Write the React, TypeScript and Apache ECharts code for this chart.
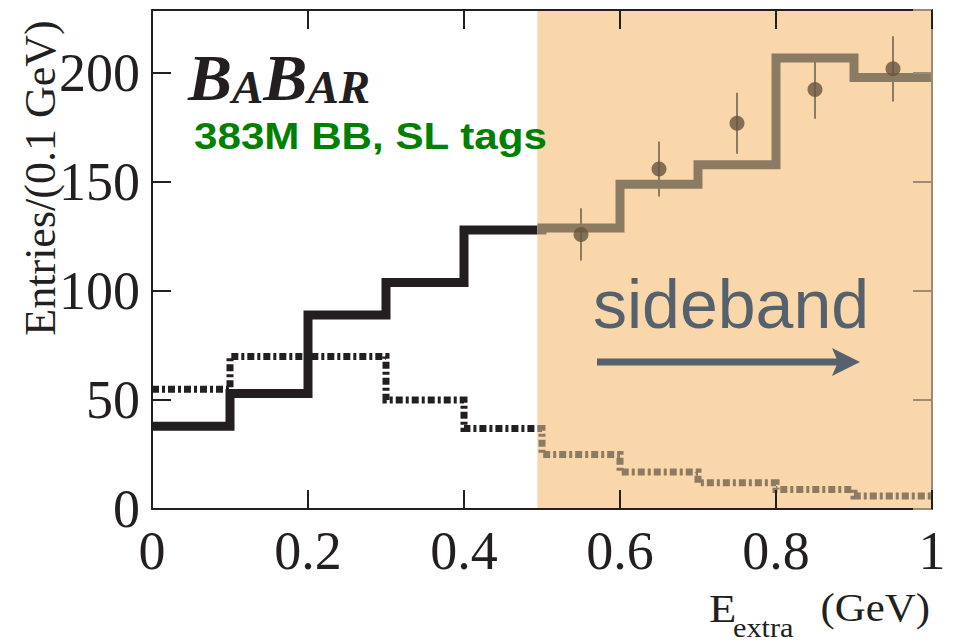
import React, { useEffect, useRef } from "react";
import * as echarts from "echarts";

// Histogram binning (GeV)
const binEdges = [0, 0.1, 0.2, 0.3, 0.4, 0.5, 0.6, 0.7, 0.8, 0.9];
const binWidth = 0.1;

// Solid histogram (entries per bin)
const solidCounts = [38, 53, 89, 104, 128, 129, 149, 158, 207, 198];
// Dash-dotted histogram (entries per bin)
const dashedCounts = [55, 70, 70, 50, 37, 25, 17, 12, 9, 6];

// Data points in the sideband with their errors
const pointX = [0.55, 0.65, 0.75, 0.85, 0.95];
const pointY = [126, 156, 177, 192.5, 202];
const pointErr = [12, 12.6, 14, 13.4, 15];

// Shaded sideband region
const sidebandFrom = 0.494;
const sidebandTo = 1.0;

// Axis ranges
const xMin = 0;
const xMax = 1;
const xStep = 0.2;
const yMin = 0;
const yMax = 229;
const yStep = 50;

const INK = "#231F20";
const BAND = "#F9D7AB";
const BROWN = "#8C7B63";
const FRAME_BROWN = "#9C8B77";
const DOT = "#66553E";
const SLATE = "#56616E";
const SERIF = "'Liberation Serif', 'Times New Roman', serif";
const SANS = "'Liberation Sans', Arial, sans-serif";

// Value of a histogram at position x (left-closed bins)
function valueAt(values: number[], x: number): number {
  let idx = 0;
  for (let i = 0; i < values.length; i++) if (binEdges[i] <= x) idx = i;
  return values[idx];
}

// Step outline (for step: "end") of the histogram restricted to [from, to]
function stepPoints(values: number[], from: number, to: number): number[][] {
  const pts: number[][] = [[from, valueAt(values, from)]];
  values.forEach((v, i) => {
    if (binEdges[i] > from && binEdges[i] < to) pts.push([binEdges[i], v]);
  });
  pts.push([to, valueAt(values, Math.min(to, binEdges[values.length - 1] + binWidth - 1e-9))]);
  return pts;
}

function stepSeries(name: string, data: number[][], color: string, width: number, dashed: boolean) {
  return {
    name,
    type: "line",
    step: "end",
    data,
    symbol: "none",
    z: dashed ? 3 : 4,
    lineStyle: {
      color,
      width,
      type: dashed ? [7, 3, 3, 3] : "solid",
      join: "miter",
      cap: "butt",
    },
    silent: true,
  };
}

export default function App() {
  const ref = useRef<HTMLDivElement>(null);

  useEffect(() => {
    if (!ref.current) return;
    const chart = echarts.init(ref.current, undefined, { renderer: "svg" });

    const tickStyle = { show: true, inside: true, length: 19, lineStyle: { color: INK, width: 2 } };
    const histEnd = binEdges[binEdges.length - 1] + binWidth;

    chart.setOption({
      animation: false,
      backgroundColor: "#ffffff",
      grid: { left: 152, right: 27, top: 10, bottom: 133, containLabel: false },
      xAxis: [
        {
          type: "value",
          min: xMin,
          max: xMax,
          interval: xStep,
          position: "bottom",
          z: 6,
          axisLine: { onZero: false, lineStyle: { color: INK, width: 2 } },
          axisTick: tickStyle,
          splitLine: { show: false },
          axisLabel: {
            fontSize: 54,
            fontFamily: SERIF,
            color: INK,
            margin: 15,
            formatter: (v: number) => String(Math.round(v * 10) / 10),
          },
        },
        {
          type: "value",
          min: xMin,
          max: xMax,
          interval: xStep,
          position: "top",
          z: 6,
          axisLine: { onZero: false, lineStyle: { color: INK, width: 2 } },
          axisTick: tickStyle,
          splitLine: { show: false },
          axisLabel: { show: false },
        },
      ],
      yAxis: [
        {
          type: "value",
          min: yMin,
          max: yMax,
          interval: yStep,
          position: "left",
          z: 6,
          axisLine: { show: true, onZero: false, lineStyle: { color: INK, width: 2 } },
          axisTick: tickStyle,
          splitLine: { show: false },
          axisLabel: {
            fontSize: 54,
            fontFamily: SERIF,
            color: INK,
            margin: 12,
            padding: [16, 0, 0, 0],
            formatter: (v: number) => (v % yStep === 0 ? String(v) : ""),
          },
        },
        {
          type: "value",
          min: yMin,
          max: yMax,
          interval: yStep,
          position: "right",
          z: 6,
          axisLine: { show: true, onZero: false, lineStyle: { color: FRAME_BROWN, width: 2 } },
          axisTick: { show: true, inside: true, length: 19, lineStyle: { color: FRAME_BROWN, width: 2 } },
          splitLine: { show: false },
          axisLabel: { show: false },
        },
      ],
      series: [
        {
          name: "band",
          type: "line",
          data: [
            [sidebandFrom, 0],
            [sidebandTo, 0],
          ],
          symbol: "none",
          lineStyle: { width: 0, opacity: 0 },
          z: 1,
          silent: true,
          markArea: {
            silent: true,
            itemStyle: { color: BAND, opacity: 1 },
            data: [[{ xAxis: sidebandFrom }, { xAxis: sidebandTo }]],
          },
        },
        stepSeries("dashed", stepPoints(dashedCounts, 0, sidebandFrom), INK, 7, true),
        stepSeries("dashed sideband", stepPoints(dashedCounts, sidebandFrom, histEnd), BROWN, 7, true),
        stepSeries("solid", stepPoints(solidCounts, 0, sidebandFrom), INK, 9, false),
        stepSeries("solid sideband", stepPoints(solidCounts, sidebandFrom, histEnd), BROWN, 9, false),
        {
          name: "errors",
          type: "custom",
          z: 5,
          silent: true,
          data: pointX.map((x, i) => [x, pointY[i] - pointErr[i], pointY[i] + pointErr[i]]),
          renderItem: (_params: any, api: any) => {
            const lo = api.coord([api.value(0), api.value(1)]);
            const hi = api.coord([api.value(0), api.value(2)]);
            return {
              type: "line",
              shape: { x1: lo[0], y1: lo[1], x2: hi[0], y2: hi[1] },
              style: { stroke: BROWN, lineWidth: 2 },
            };
          },
        },
        {
          name: "data",
          type: "scatter",
          z: 6,
          silent: true,
          symbol: "circle",
          symbolSize: 15,
          itemStyle: { color: DOT },
          data: pointX.map((x, i) => [x, pointY[i]]),
        },
      ],
      graphic: [
        {
          type: "text",
          z: 10,
          x: 40,
          y: 178,
          rotation: Math.PI / 2,
          style: {
            text: "Entries/(0.1 GeV)",
            fontSize: 44,
            fontFamily: SERIF,
            fill: INK,
            align: "center",
            verticalAlign: "middle",
          },
        },
        {
          type: "text",
          z: 10,
          x: 188,
          y: 110,
          style: {
            text: "{b|B}{s|A}{b|B}{s|AR}",
            align: "left",
            verticalAlign: "bottom",
            rich: {
              b: {
                fontSize: 66,
                lineHeight: 66,
                fontStyle: "italic",
                fontWeight: "bold",
                fontFamily: SERIF,
                fill: INK,
                verticalAlign: "bottom",
              },
              s: {
                fontSize: 47,
                lineHeight: 53,
                fontStyle: "italic",
                fontWeight: "bold",
                fontFamily: SERIF,
                fill: INK,
                verticalAlign: "bottom",
              },
            },
          },
        },
        {
          type: "text",
          z: 10,
          x: 194,
          y: 136,
          scaleX: 1.14,
          style: {
            text: "383M BB, SL tags",
            fontSize: 37,
            fontWeight: "bold",
            fontFamily: SANS,
            fill: "#008000",
            align: "left",
            verticalAlign: "middle",
          },
        },
        {
          type: "text",
          z: 10,
          x: 593,
          y: 304,
          style: {
            text: "sideband",
            fontSize: 68,
            fontFamily: SANS,
            fill: SLATE,
            align: "left",
            verticalAlign: "middle",
          },
        },
        {
          type: "line",
          z: 10,
          shape: { x1: 597, y1: 362, x2: 842, y2: 362 },
          style: { stroke: SLATE, lineWidth: 7 },
        },
        {
          type: "polygon",
          z: 10,
          shape: {
            points: [
              [860, 362],
              [832, 348],
              [838, 362],
              [832, 376],
            ],
          },
          style: { fill: SLATE },
        },
        {
          type: "text",
          z: 10,
          x: 709,
          y: 608,
          scaleX: 1.12,
          style: {
            text: "E",
            fontSize: 40,
            fontFamily: SERIF,
            fill: INK,
            align: "left",
            verticalAlign: "middle",
          },
        },
        {
          type: "text",
          z: 10,
          x: 733,
          y: 628,
          scaleX: 1.12,
          style: {
            text: "extra",
            fontSize: 27,
            fontFamily: SERIF,
            fill: INK,
            align: "left",
            verticalAlign: "middle",
          },
        },
        {
          type: "text",
          z: 10,
          x: 930,
          y: 608,
          scaleX: 1.1,
          style: {
            text: "(GeV)",
            fontSize: 39,
            fontFamily: SERIF,
            fill: INK,
            align: "right",
            verticalAlign: "middle",
          },
        },
      ],
    });

    return () => chart.dispose();
  }, []);

  return (
    <div
      ref={ref}
      style={{ position: "absolute", left: 0, top: 0, width: 959, height: 642 }}
    />
  );
}
